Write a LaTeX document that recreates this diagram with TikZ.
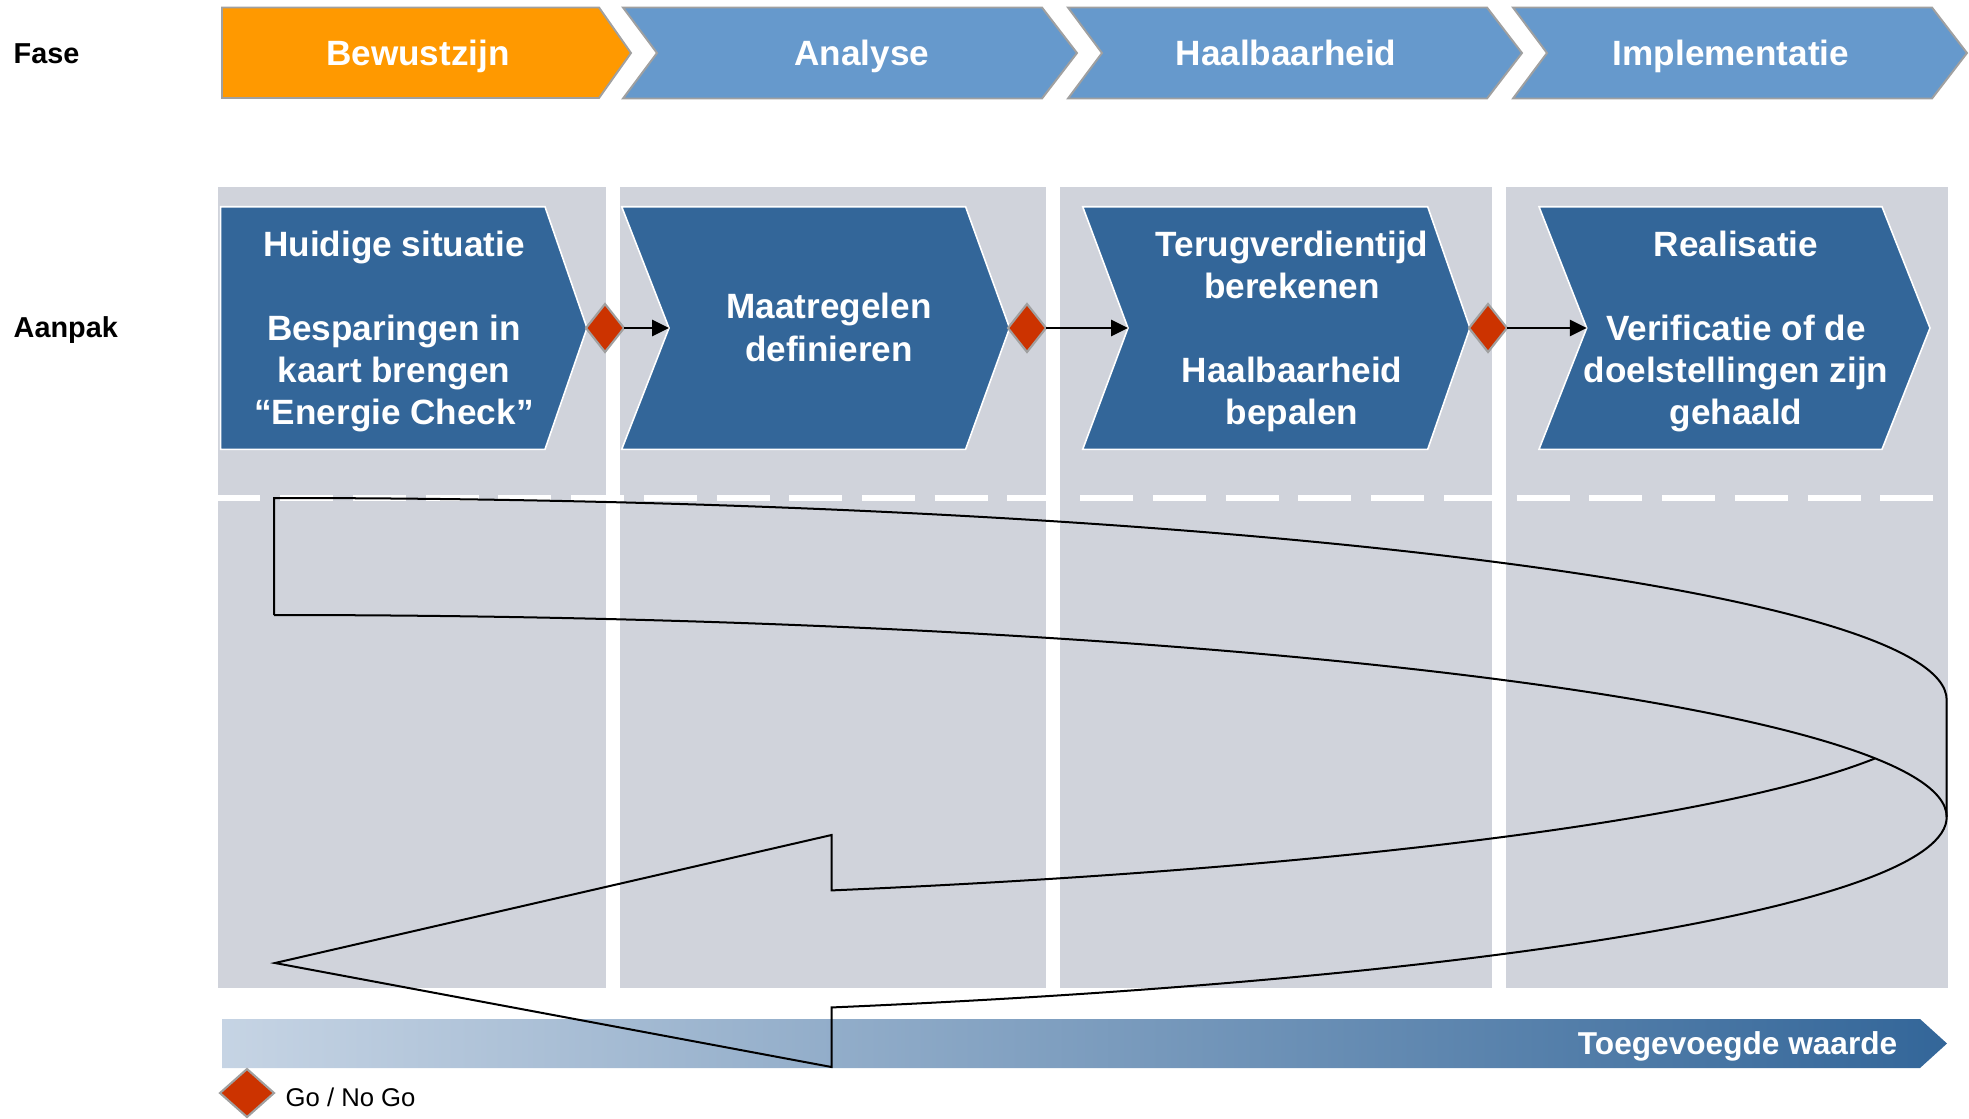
\documentclass[tikz,border=0pt]{standalone}
\usepackage{fontspec}
\setmainfont{Liberation Sans}
\usetikzlibrary{shapes.geometric, arrows.meta}

\definecolor{faseoranje}{RGB}{255,153,0}
\definecolor{faseblauw}{RGB}{102,153,204}
\definecolor{stapblauw}{RGB}{51,102,153}
\definecolor{kolomgrijs}{RGB}{208,211,219}
\definecolor{gonogo}{RGB}{204,51,0}
\definecolor{randgrijs}{RGB}{160,160,160}
\definecolor{waardelicht}{RGB}{198,212,228}
\definecolor{waardemidden}{RGB}{160,178,204}

\begin{document}
\begin{tikzpicture}[x = .1mm, y = -.1mm,
  fase/.style = {draw = randgrijs, line width = .55pt},
  stap/.style = {fill = stapblauw, draw = white, line width = .45pt},
  poort/.style = {diamond, fill = gonogo, draw = randgrijs, line width = .6pt,
    inner sep = 0, outer sep = 0, minimum width = 3.8mm, minimum height = 4.8mm},
  pijl/.style = {-{Triangle[length = 4.8pt, width = 4.6pt]}, line width = .6pt},
  kop/.style = {font = \fontsize{10}{12}\selectfont\bfseries, text = white, anchor = base},
  tekst/.style = {font = \fontsize{10}{12}\selectfont\bfseries, text = white, align = center},
  rij/.style = {font = \fontsize{8.2}{10}\selectfont\bfseries, anchor = base west,
    inner sep = 0}]
  \useasboundingbox (0, 0) rectangle (1969, 1118);

  % fasen
  \draw[fase, fill = faseoranje] (222, 7.5) -- (599, 7.5) -- (631, 53) -- (599, 98)
  -- (222, 98) -- cycle;
  \foreach \x in {623, 1068, 1513}
    \draw[fase, fill = faseblauw] (\x, 7.5) -- ++(419, 0) -- ++(35, 45.5)
    -- ++(-35, 45.5) -- ++(-419, 0) -- ++(34, -45.5) -- cycle;

  \node[kop] (bewust) at (418, 65) {Bewustzijn};
  \node[kop] (analyse) at (862, 65) {Analyse};
  \node[kop] (haalbaar) at (1286, 65) {Haalbaarheid};
  \node[kop] (implem) at (1731, 65) {Implementatie};

  \node[rij] (fase) at (13, 63) {Fase};
  \node[rij] (aanpak) at (13, 337) {Aanpak};

  % kolommen
  \fill[kolomgrijs] (218, 187) rectangle (606, 988);
  \fill[kolomgrijs] (620, 187) rectangle (1046, 988);
  \fill[kolomgrijs] (1060, 187) rectangle (1492, 988);
  \fill[kolomgrijs] (1506, 187) rectangle (1948, 988);
  \draw[white, line width = .67mm, dash pattern = on 5.3mm off 1.975mm]
  (207.25, 498) -- (1948, 498);

  % stappen
  \draw[stap] (220.7, 206.7) -- (545, 206.7) -- (587, 328) -- (545, 449.3)
  -- (220.7, 449.3) -- cycle;
  \draw[stap] (621.7, 206.7) -- (965.6, 206.7) -- (1009.6, 328) -- (965.6, 449.3)
  -- (621.7, 449.3) -- (669, 328) -- cycle;
  \draw[stap] (1082.7, 206.7) -- (1427.7, 206.7) -- (1470, 328) -- (1427.7, 449.3)
  -- (1082.7, 449.3) -- (1128, 328) -- cycle;
  \draw[stap] (1539, 206.7) -- (1882, 206.7) -- (1930, 328) -- (1882, 449.3)
  -- (1539, 449.3) -- (1586.7, 328) -- cycle;

  \coordinate (inkeping2) at (669, 328);
  \coordinate (inkeping3) at (1128, 328);
  \coordinate (inkeping4) at (1586.7, 328);

  \node[tekst] (stap1) at (394, 331.4)
  {Huidige situatie\\ \\Besparingen in\\kaart brengen\\“Energie Check”};
  \node[tekst] (stap2) at (829, 327.5) {Maatregelen\\definieren};
  \node[tekst] (stap3) at (1292, 331.4)
  {Terugverdientijd\\berekenen\\ \\Haalbaarheid\\bepalen};
  \node[tekst] (stap4) at (1736, 331.4)
  {Realisatie\\ \\Verificatie of de\\doelstellingen zijn\\gehaald};

  \node[poort] (poort1) at (605, 328) {};
  \node[poort] (poort2) at (1027, 328) {};
  \node[poort] (poort3) at (1488, 328) {};
  \draw[pijl] (poort1) -- (inkeping2);
  \draw[pijl] (poort2) -- (inkeping3);
  \draw[pijl] (poort3) -- (inkeping4);

  % toegevoegde waarde
  \shade[left color = waardelicht, middle color = waardemidden, right color = stapblauw]
  (222, 1019) -- (1920, 1019) -- (1947, 1043.5) -- (1920, 1068) -- (222, 1068) -- cycle;
  \node[font = \fontsize{9}{11}\selectfont\bfseries, text = white, anchor = base east,
  inner sep = 0] (waarde) at (1898, 1054) {Toegevoegde waarde};

  % terugkoppeling
  \draw[line width = .57pt] (274, 615) -- (274, 498)
  arc[start angle = -90, end angle = 0, x radius = 1672.7, y radius = 202]
  -- (1946.7, 817)
  arc[start angle = 0, end angle = 70.53, x radius = 1672.7, y radius = 202]
  -- (831.5, 1067) -- (275, 963) -- (831.5, 835) -- (831.5, 890.4)
  arc[start angle = 70.53, end angle = 16.83, x radius = 1672.7, y radius = 202];
  \draw[line width = .57pt] (274, 615)
  arc[start angle = -90, end angle = 0, x radius = 1672.7, y radius = 202];

  % legenda
  \node[poort, minimum width = 5.4mm] (legenda) at (247, 1093) {};
  \node[font = \fontsize{7.3}{9}\selectfont, anchor = base west, inner sep = 0]
  (gonogo) at (285, 1106) {Go / No Go};
\end{tikzpicture}
\end{document}
